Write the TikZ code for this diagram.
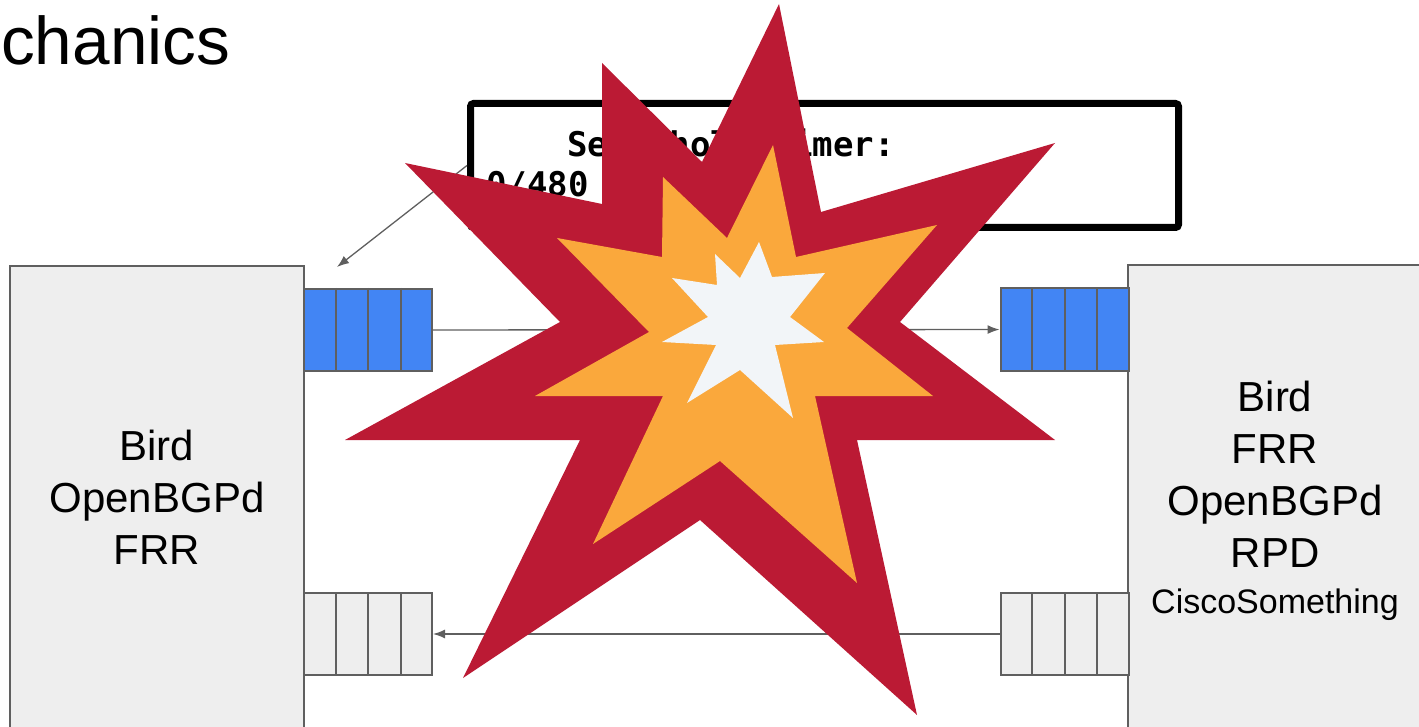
\documentclass[tikz,border=0pt]{standalone}
\usepackage{fontspec}
\setmainfont{Liberation Sans}
\newfontfamily\codefont{DejaVu Sans Mono}
\usepackage{xcolor}
\usepackage{tikz}
\usetikzlibrary{calc, arrows.meta}
\definecolor{boomred}{RGB}{187, 26, 52}
\definecolor{boomorange}{RGB}{250, 168, 60}
\definecolor{boomcore}{RGB}{242, 245, 248}
\definecolor{qblue}{RGB}{66, 133, 244}
\definecolor{boxgray}{RGB}{238, 238, 238}
\definecolor{edgegray}{RGB}{95, 95, 95}

\tikzset{
  router/.style={draw=edgegray, line width=1.5pt, fill=boxgray, minimum width=294pt,
    align=center, inner sep=0pt, font=\fontsize{42}{52}\selectfont},
  queue/.style={draw=edgegray, line width=2pt, minimum width=128pt, minimum height=82pt, inner sep=0pt},
  link/.style={edgegray, line width=1.3pt, -{Latex[length=12pt, width=9pt]}},
  code/.style={inner sep=0pt, font=\codefont\bfseries\fontsize{34}{40}\selectfont},
}

\begin{document}
\begin{tikzpicture}[x=1pt, y=-1pt]
\path[use as bounding box, clip] (0,0) rectangle (1419,727);
\node[anchor=base west, inner sep=0pt, font=\fontsize{67.5}{70}\selectfont] (title) at (1,65) {chanics};
% the two BGP speakers
\node[router, minimum height=462pt] (lrouter) at (157,497) {Bird\\OpenBGPd\\FRR};
\node[router, minimum height=472pt] (rrouter) at (1275,501)
  {Bird\\FRR\\OpenBGPd\\RPD\\[-6pt]{\fontsize{34}{40}\selectfont CiscoSomething}};
% send / receive buffers
\node[queue, fill=qblue] (lout) at (368,330) {};
\node[queue, fill=qblue] (rin) at (1064.5,329.5) {};
\node[queue, fill=boxgray] (lin) at (368,634) {};
\node[queue, fill=boxgray] (rout) at (1064.5,634) {};
\foreach \q in {lout, rin, lin, rout}
  \foreach \i in {1,2,3}
    \draw[edgegray, line width=2pt] ($(\q.north west)!\i/4!(\q.north east)$) -- ($(\q.south west)!\i/4!(\q.south east)$);
\draw[link] (lout) -- (rin);
\draw[link] (rout) -- (lin);
% timer callout
\node[draw, line width=7pt, rounded corners=3pt, minimum width=708pt, minimum height=124pt] (timerbox) at (824.5,165.5) {};
\node[code, anchor=base west] (holdlbl) at (567,157) {Send hold timer:};
\node[code, anchor=base west] (holdval) at (486,197) {0/480};
\coordinate (holdtip) at (337,267);
\draw[link] (timerbox.west) -- (holdtip);
% boom
\fill[boomred] (779,4) -- (821,212) -- (1055,143) -- (900,322) -- (1055,440) -- (857,440)
  -- (917,715) -- (700,520) -- (463,678) -- (580,440) -- (345,440) -- (560,322)
  -- (405,163) -- (602,204) -- (602,63) -- (702,162) -- cycle;
\fill[boomorange] (773,145) -- (796,257) -- (937,225) -- (847,328) -- (933,396) -- (815,396)
  -- (857,583) -- (720,461) -- (593,544) -- (663,396) -- (535,396) -- (649,332)
  -- (557,238) -- (662,257) -- (663,177) -- (727,238) -- cycle;
\fill[boomcore] (759,242) -- (772,277) -- (825,273) -- (790,317) -- (824,342) -- (775,345)
  -- (793,418) -- (740,370) -- (687,403) -- (716,345) -- (662,342) -- (708,317)
  -- (672,278) -- (717,285) -- (715,254) -- (740,278) -- cycle;
\end{tikzpicture}
\end{document}
